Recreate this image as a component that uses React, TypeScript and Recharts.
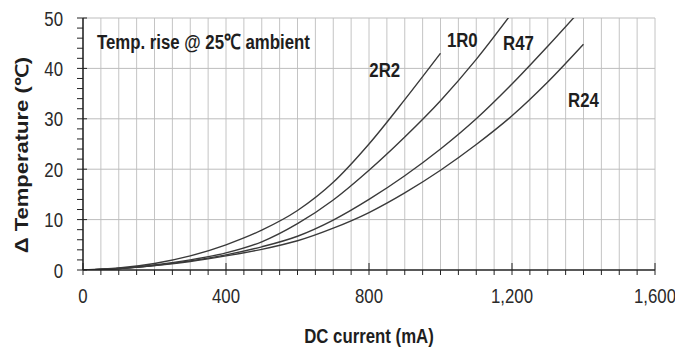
import React from "react";
import {
  LineChart,
  Line,
  XAxis,
  YAxis,
  CartesianGrid,
  ReferenceLine,
  ReferenceDot,
} from "recharts";

// ---- data ----
const CURRENTS = [0, 100, 200, 300, 400, 500, 600, 700, 800, 900, 1000, 1100, 1200, 1300, 1400];
const T_2R2 = [0, 0.4, 1.3, 2.8, 5.0, 7.9, 11.8, 17.4, 25.0, 33.8, 43.0];
const T_1R0 = [0, 0.3, 1.0, 2.0, 3.4, 5.6, 9.2, 13.9, 19.8, 26.4, 33.6, 41.8, 51.0];
const T_R47 = [0, 0.3, 0.9, 1.8, 3.0, 4.6, 6.7, 9.9, 14.0, 18.7, 24.0, 30.0, 36.9, 44.4, 52.2];
const T_R24 = [0, 0.3, 0.9, 1.7, 2.8, 4.1, 5.8, 8.3, 11.4, 15.3, 19.8, 24.9, 30.6, 37.3, 44.8];

const SERIES_NAMES = ["2R2", "1R0", "R47", "R24"];
const SERIES_VALUES = [T_2R2, T_1R0, T_R47, T_R24];
// label anchor (current mA, temperature) for each curve name
const SERIES_LABEL_X = [844, 1061, 1218, 1400];
const SERIES_LABEL_Y = [38.3, 44.2, 43.6, 32.3];

const X_TICKS = Array.from({ length: 33 }, (_, i) => i * 50);
const X_MAJOR = [0, 400, 800, 1200, 1600];
const X_MAJOR_LABELS = ["0", "400", "800", "1,200", "1,600"];
const Y_TICKS = Array.from({ length: 26 }, (_, i) => i * 2);
const Y_GRID = [10, 20, 30, 40, 50];

const TITLE_NOTE = "Temp. rise @ 25\u2103 ambient";
const X_TITLE = "DC current (mA)";
const Y_TITLE = "\u0394 Temperature (\u2103)";

const FONT = "'Liberation Sans', Arial, sans-serif";
const SX = 0.8;
const INK = "#1e1e1e";

const buildData = (vals: number[]) => vals.map((t, i) => ({ x: CURRENTS[i], t }));

const XTick = (props: any) => {
  const { x, y, payload } = props;
  const v = payload.value;
  const idx = X_MAJOR.indexOf(v);
  const major = idx >= 0;
  return (
    <g>
      <line x1={x} x2={x} y1={major ? y - 7 : y} y2={y + 5} stroke="#222" strokeWidth={1} />
      {major && (
        <text
          transform={`translate(${x},${y + 33}) scale(${SX},1)`}
          textAnchor="middle"
          fontSize={21}
          fontFamily={FONT}
          fill="#2a2a2a"
        >
          {X_MAJOR_LABELS[idx]}
        </text>
      )}
    </g>
  );
};

const YTick = (props: any) => {
  const { x, y, payload } = props;
  const v = payload.value;
  const major = v % 10 === 0;
  return (
    <g>
      <line x1={x - 6} x2={major ? x + 4 : x} y1={y} y2={y} stroke="#222" strokeWidth={1} />
      {major && (
        <text
          transform={`translate(${x - 20},${y + 7.5}) scale(${SX},1)`}
          textAnchor="end"
          fontSize={21}
          fontFamily={FONT}
          fill="#2a2a2a"
        >
          {v}
        </text>
      )}
    </g>
  );
};

const makeTextLabel = (txt: string, anchor: "start" | "middle") => (p: any) => {
  const vb = p.viewBox || {};
  const cx = (vb.x ?? 0) + (vb.width ?? 0) / 2;
  const cy = (vb.y ?? 0) + (vb.height ?? 0) / 2;
  return (
    <text
      transform={`translate(${cx},${cy}) scale(${SX},1)`}
      textAnchor={anchor}
      fontSize={21}
      fontWeight="bold"
      fontFamily={FONT}
      fill={INK}
    >
      {txt}
    </text>
  );
};

const XTitle = (p: any) => {
  const vb = p.viewBox;
  const cx = vb.x + vb.width / 2;
  const cy = vb.y + 73;
  return (
    <text
      transform={`translate(${cx},${cy}) scale(${SX},1)`}
      textAnchor="middle"
      fontSize={21}
      fontWeight="bold"
      fontFamily={FONT}
      fill={INK}
    >
      {X_TITLE}
    </text>
  );
};

const YTitle = (p: any) => {
  const vb = p.viewBox;
  const cx = vb.x + 22;
  const cy = vb.y + vb.height / 2 + 11;
  return (
    <text
      transform={`translate(${cx},${cy}) scale(${SX},1) rotate(-90)`}
      textAnchor="middle"
      dy="0.36em"
      fontSize={22}
      fontWeight="bold"
      fontFamily={FONT}
      fill={INK}
    >
      {Y_TITLE}
    </text>
  );
};

export default function App() {
  return (
    <div style={{ position: "absolute", left: 0, top: 0, width: 675, height: 352, background: "#fff" }}>
      <LineChart width={675} height={352} margin={{ top: 18, right: 20, bottom: 0, left: 0 }}>
        <CartesianGrid horizontal={false} stroke="#c4c4c4" strokeWidth={1} />
        {Y_GRID.map((v) => (
          <ReferenceLine key={v} y={v} stroke="#bdbdbd" strokeWidth={1} />
        ))}
        <XAxis
          type="number"
          dataKey="x"
          domain={[0, 1600]}
          ticks={X_TICKS}
          interval={0}
          tickSize={0}
          tickMargin={0}
          tickLine={false}
          tick={<XTick />}
          height={82}
          allowDataOverflow
          axisLine={{ stroke: "#222", strokeWidth: 1.5 }}
          label={{ content: XTitle }}
        />
        <YAxis
          type="number"
          domain={[0, 50]}
          ticks={Y_TICKS}
          interval={0}
          tickSize={0}
          tickMargin={0}
          tickLine={false}
          tick={<YTick />}
          width={83}
          allowDataOverflow
          axisLine={{ stroke: "#222", strokeWidth: 1.5 }}
          label={{ content: YTitle }}
        />
        {SERIES_VALUES.map((vals, i) => (
          <Line
            key={SERIES_NAMES[i]}
            data={buildData(vals)}
            dataKey="t"
            type="monotone"
            stroke="#3a3a3a"
            strokeWidth={1.4}
            dot={false}
            activeDot={false}
            isAnimationActive={false}
          />
        ))}
        {SERIES_NAMES.map((name, i) => (
          <ReferenceDot
            key={"lbl" + name}
            x={SERIES_LABEL_X[i]}
            y={SERIES_LABEL_Y[i]}
            r={1}
            fill="none"
            stroke="none"
            label={{ content: makeTextLabel(name, "middle") }}
          />
        ))}
        <ReferenceDot
          x={39}
          y={43.8}
          r={1}
          fill="none"
          stroke="none"
          label={{ content: makeTextLabel(TITLE_NOTE, "start") }}
        />
      </LineChart>
    </div>
  );
}
